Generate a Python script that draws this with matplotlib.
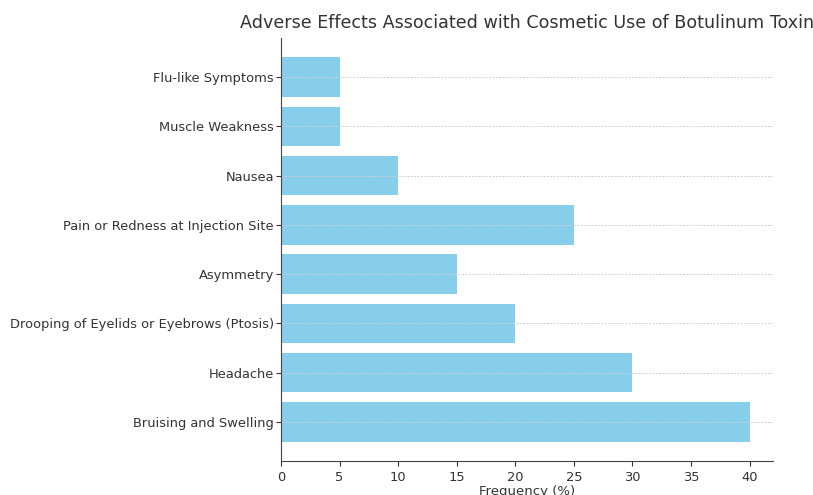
import matplotlib
matplotlib.use("Agg")
import matplotlib.pyplot as plt

# Données
effects = ["Bruising and Swelling", "Headache",
           "Drooping of Eyelids or Eyebrows (Ptosis)", "Asymmetry",
           "Pain or Redness at Injection Site", "Nausea",
           "Muscle Weakness", "Flu-like Symptoms"]
frequency = [40, 30, 20, 15, 25, 10, 5, 5]

fig = plt.figure(figsize=(8.13, 4.95), dpi=100)
ax = fig.add_axes([281/813, 34/495, 492/813, 423/495])

ax.barh(effects, frequency, color="skyblue", height=0.8)
ax.set_xlim(0, 42)
ax.set_xticks(range(0, 45, 5))
ax.grid(axis="y", linestyle=(0, (2, 1.5)), color="#d0d0d0", linewidth=0.7)

ax.set_title("Adverse Effects Associated with Cosmetic Use of Botulinum Toxin",
             fontsize=12.6, color="#333333", pad=7)
ax.set_xlabel("Frequency (%)", fontsize=9.5, color="#333333", labelpad=1)
ax.tick_params(labelsize=9.4, colors="#333333")
ax.tick_params(axis="y", pad=1.5)
for s in ["top", "right"]:
    ax.spines[s].set_visible(False)
for s in ["left", "bottom"]:
    ax.spines[s].set_color("#444444")

fig.savefig("out.png", dpi=100)
